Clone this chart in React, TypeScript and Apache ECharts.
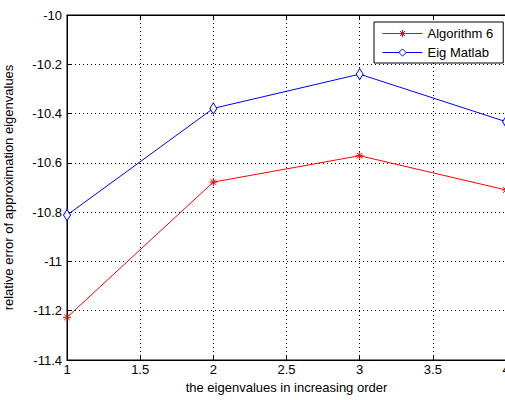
import React, { useEffect, useRef } from "react";
import * as echarts from "echarts";

const xValues = [1, 2, 3, 4];
const algorithm6 = [-11.227, -10.678, -10.571, -10.71];
const eigMatlab = [-10.812, -10.379, -10.24, -10.433];
const seriesNames = ["Algorithm 6", "Eig Matlab"];
const xTitle = "the eigenvalues in increasing order";
const yTitle = "relative error of approximation eigenvalues";

const FONT = "Liberation Sans, Arial, sans-serif";
const asterisk =
  "path://M5,0 L5,10 M0,5 L10,5 M1.5,1.5 L8.5,8.5 M8.5,1.5 L1.5,8.5";
const diamond = "path://M5,0 L10,7 L5,14 L0,7 Z";

export default function App() {
  const ref = useRef<HTMLDivElement>(null);
  useEffect(() => {
    if (!ref.current) return;
    const chart = echarts.init(ref.current, undefined, { renderer: "svg" });
    const tickStyle = { show: true, inside: true, length: 5, lineStyle: { color: "#000" } };
    chart.setOption({
      animation: false,
      backgroundColor: "#fff",
      textStyle: { fontFamily: FONT },
      grid: {
        left: 67,
        top: 15,
        width: 439,
        height: 345,
        outerBoundsMode: "none",
        containLabel: false,
        show: true,
        borderColor: "#000",
        borderWidth: 1,
        backgroundColor: "transparent",
      },
      legend: {
        data: seriesNames,
        orient: "vertical",
        left: 374,
        top: 22,
        padding: [5, 10, 4, 8],
        itemGap: 6,
        itemWidth: 40,
        itemHeight: 9,
        lineStyle: { width: 1 },
        itemStyle: { borderWidth: 1 },
        backgroundColor: "#fff",
        borderColor: "#000",
        borderWidth: 1,
        borderRadius: 0,
        textStyle: { fontFamily: FONT, fontSize: 13, color: "#000", padding: [0, 0, 0, 0] },
      },
      xAxis: [
        {
          type: "value",
          min: 1,
          max: 4,
          interval: 0.5,
          name: xTitle,
          nameLocation: "middle",
          nameGap: 21,
          nameTextStyle: { fontFamily: FONT, fontSize: 13, color: "#000" },
          axisLine: { show: true, onZero: false, lineStyle: { color: "#000" } },
          axisTick: tickStyle,
          axisLabel: { color: "#000", fontSize: 13, fontFamily: FONT, margin: 3, showMaxLabel: true },
          splitLine: { show: true, lineStyle: { color: "#000", type: [1, 3], width: 1 } },
        },
        {
          type: "value",
          position: "top",
          min: 1,
          max: 4,
          interval: 0.5,
          axisLine: { show: true, lineStyle: { color: "#000" } },
          axisTick: tickStyle,
          axisLabel: { show: false },
          splitLine: { show: false },
        },
      ],
      yAxis: {
        type: "value",
        min: -11.4,
        max: -10,
        interval: 0.2,
        name: yTitle,
        nameLocation: "middle",
        nameGap: 52,
        nameTextStyle: { fontFamily: FONT, fontSize: 13, color: "#000" },
        axisLine: { show: true, onZero: false, lineStyle: { color: "#000" } },
        axisTick: tickStyle,
        axisLabel: {
          color: "#000",
          fontSize: 13,
          fontFamily: FONT,
          margin: 5,
          formatter: (v: number) => String(parseFloat(v.toFixed(1))),
        },
        splitLine: { show: true, lineStyle: { color: "#000", type: [1, 3], width: 1 } },
      },
      series: [
        {
          name: seriesNames[0],
          type: "line",
          data: xValues.map((x, i) => [x, algorithm6[i]]),
          symbol: asterisk,
          symbolSize: 8,
          lineStyle: { color: "#ff0000", width: 1 },
          itemStyle: { color: "none", borderColor: "#ff0000", borderWidth: 1 },
          z: 3,
        },
        {
          name: seriesNames[1],
          type: "line",
          data: xValues.map((x, i) => [x, eigMatlab[i]]),
          symbol: diamond,
          symbolSize: [7, 11],
          lineStyle: { color: "#0000ff", width: 1 },
          itemStyle: { color: "#ffffff", borderColor: "#0000ff", borderWidth: 1 },
          z: 3,
        },
      ],
    });
    return () => chart.dispose();
  }, []);
  return (
    <div
      style={{
        position: "fixed",
        left: 0,
        top: 0,
        width: 505,
        height: 400,
        overflow: "hidden",
        background: "#fff",
      }}
    >
      <div ref={ref} style={{ width: 520, height: 400 }} />
    </div>
  );
}
